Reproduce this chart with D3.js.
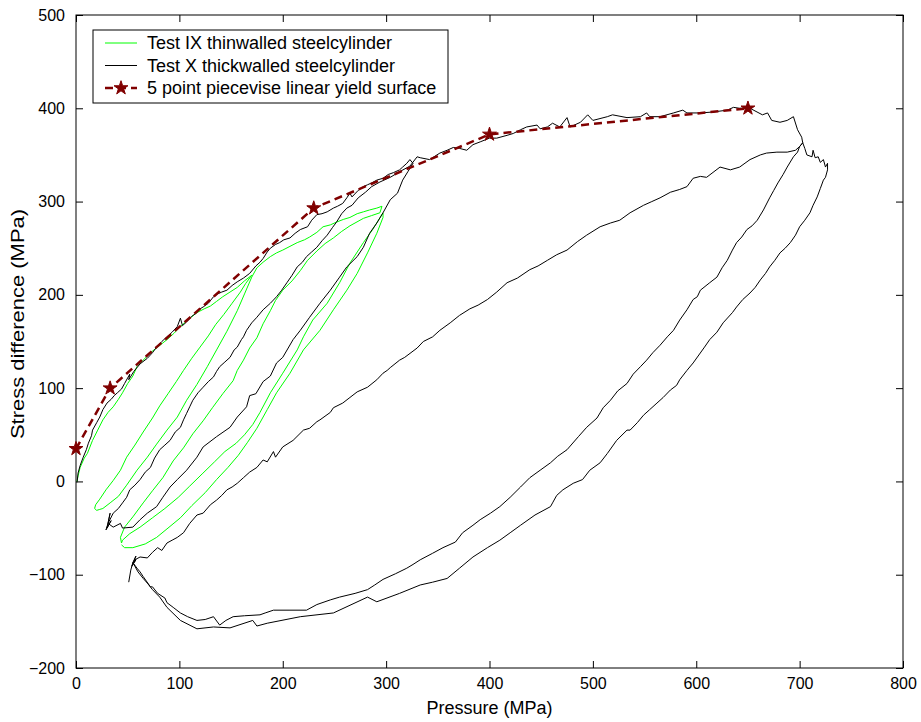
<!DOCTYPE html>
<html>
<head>
<meta charset="utf-8">
<script src="https://cdn.jsdelivr.net/npm/d3@7"></script>
<style>
  body { margin: 0; background: #ffffff; }
  text { font-family: "Liberation Sans", Arial, sans-serif; }
</style>
</head>
<body>
<div id="viz-container"></div>
<script>
let w = 921;
let h = 722;

// pressure (MPa), stress difference (MPa)
let yieldP = [0, 33, 230, 400, 650];
let yieldQ = [35, 100, 293, 372, 400];

// Test IX thinwalled, split into load / unload branches
let greenLoad = [[1,0],[2,6],[4,15],[8,25],[11,30],[16,44],[21,55],[26,66],[31,74],[36,80],[41,88],[45,95],[50,105],[55,113],[59,123],[65,130],[72,138],[79,144],[88,152],[95,159],[101,166],[108,173],[117,181],[124,185],[130,188],[136,193],[142,198],[149,203],[156,208],[163,215],[170,221]];
let greenUnload1 = [[164,212],[159,203],[151,191],[143,179],[135,168],[128,156],[120,144],[112,132],[104,119],[97,107],[89,94],[81,81],[74,68],[65,53],[57,39],[49,26],[43,12],[36,1],[29,-9],[23,-19],[19,-25],[18,-29],[20,-31],[23,-30],[26,-29]];
let greenReload1 = [[33,-23],[41,-16],[49,-4],[59,12],[69,26],[78,40],[88,55],[98,69],[107,87],[117,104],[127,123],[136,141],[146,161],[156,183],[163,201],[170,219]];
let greenLoad2 = [[175,229],[181,235],[188,241],[194,245],[200,248],[207,252],[214,256],[221,259],[226,262],[233,267],[239,273],[246,275],[252,278],[259,281],[265,283],[272,287],[278,289],[284,291],[291,293],[296,295]];
let greenUnload2 = [[294,288],[286,285],[278,282],[265,274],[257,268],[249,261],[241,255],[233,247],[224,237],[217,226],[209,215],[200,205],[193,194],[188,183],[181,169],[175,154],[168,143],[162,130],[156,119],[152,108],[142,94],[132,79],[123,65],[113,51],[104,36],[94,22],[84,4],[74,-10],[65,-23],[55,-38],[47,-49],[43,-60],[44,-66]];
let greenReload2 = [[45,-63],[52,-56],[62,-49],[74,-39],[86,-29],[99,-17],[110,-5],[122,8],[134,21],[144,32],[155,41],[163,50],[171,61],[178,74],[188,95],[200,116],[214,141],[220,155],[229,173],[243,191],[255,213],[265,234],[278,256],[287,270],[297,288]];
let greenUnload3 = [[297,283],[291,266],[282,245],[272,223],[262,205],[249,184],[236,162],[220,141],[207,116],[194,95],[185,77],[175,57],[166,42],[157,28],[147,15],[136,2],[125,-12],[112,-26],[101,-39],[89,-50],[78,-60],[67,-67],[55,-71],[47,-71],[44,-68]];

// Test X thickwalled
let blackLoad1 = [[1,-1],[2,9],[4,17],[7,26],[10,34],[12,41],[15,49],[16,55],[20,63],[23,69],[26,77],[30,84],[34,88],[37,92],[40,95],[44,99],[47,105],[52,115],[51,109],[56,118],[62,126],[69,132],[74,138],[78,144],[83,150],[88,155],[93,160],[98,166],[101,175],[103,167],[107,171],[112,177],[117,181],[120,185],[123,187],[128,191],[133,198],[137,201],[141,203],[146,205],[151,210],[156,214],[162,218],[168,223],[174,231],[178,235],[181,239],[185,246],[188,250],[193,254],[197,256],[201,259],[207,261],[212,266],[217,270],[224,273],[228,280],[233,286],[238,287],[243,289],[249,293],[253,295],[258,298],[262,304],[265,309],[267,305],[273,312],[278,316],[282,318],[286,320],[291,323],[297,325],[302,329],[307,331],[313,334],[316,337],[320,341],[323,345],[326,341]];
let blackUnload1 = [[321,332],[316,323],[311,309],[304,302],[297,288],[291,277],[284,266],[278,251],[272,241],[262,230],[255,219],[246,205],[236,191],[226,176],[217,162],[210,152],[200,133],[194,127],[188,113],[181,107],[174,94],[168,92],[165,80],[156,69],[149,58],[136,48],[123,37],[117,26],[107,12],[98,2],[91,-6],[84,-17],[78,-27],[69,-34],[62,-41],[55,-49],[45,-50],[43,-45],[36,-49],[31,-45],[29,-52],[34,-42],[30,-50],[33,-34],[31,-45]];
let blackReload1 = [[36,-34],[41,-29],[45,-23],[49,-17],[52,-9],[57,-4],[62,2],[67,10],[72,15],[76,25],[81,34],[86,39],[91,44],[96,53],[101,58],[104,66],[107,73],[110,80],[113,87],[118,95],[123,101],[128,107],[133,112],[136,118],[139,123],[144,128],[149,133],[153,141],[156,144],[160,152],[162,155],[165,162],[170,170],[175,176],[181,184],[188,191],[194,198],[199,205],[204,213],[209,221],[214,230],[219,235],[223,241],[228,246],[233,251],[238,258],[243,264],[248,272],[252,278],[257,287],[262,293],[267,296],[273,304],[280,310],[286,316],[294,321],[304,326],[313,332],[323,338],[330,348]];
let blackLoad2 = [[333,347],[342,345],[352,352],[359,355],[365,358],[371,357],[378,355],[384,361],[391,364],[400,368],[407,368],[417,371],[423,373],[430,377],[436,380],[446,382],[449,378],[456,380],[461,384],[468,380],[475,390],[478,380],[488,385],[495,393],[500,387],[514,391],[519,393],[533,390],[546,391],[552,395],[555,391],[565,391],[578,395],[587,398],[591,395],[604,395],[616,396],[630,398],[636,401],[642,400],[652,400],[664,393],[669,395],[673,387],[681,385],[688,387],[694,391],[698,377],[702,369],[703,363]];
let blackUnload2 = [[700,359],[698,353],[694,348],[688,337],[684,329],[679,320],[675,312],[671,304],[665,291],[659,280],[654,274],[649,270],[644,262],[639,256],[635,248],[630,237],[625,229],[620,219],[613,213],[604,205],[601,198],[597,195],[591,184],[584,173],[578,162],[572,155],[565,146],[558,138],[552,130],[546,123],[539,115],[533,105],[524,97],[517,87],[510,79],[504,68],[494,58],[486,48],[475,34],[466,27],[459,20],[449,12],[439,4],[430,-6],[420,-17],[410,-27],[401,-34],[391,-41],[384,-47],[374,-55],[367,-65],[355,-71],[345,-77],[333,-84],[326,-89],[320,-93],[309,-99],[297,-105],[289,-111],[282,-116],[270,-120],[255,-124],[246,-127],[233,-132],[223,-138],[207,-138],[191,-138],[183,-141],[178,-143],[163,-144],[152,-145],[145,-149],[139,-154],[133,-145],[125,-148],[117,-149],[108,-145],[101,-141],[94,-135],[88,-130],[86,-125],[79,-120],[74,-113],[72,-113],[65,-102],[62,-97],[59,-93],[55,-87],[58,-80],[54,-91],[58,-84],[56,-87]];
let blackReload2 = [[57,-84],[62,-81],[69,-82],[74,-76],[79,-71],[83,-74],[88,-66],[93,-63],[98,-60],[104,-55],[107,-50],[110,-45],[117,-36],[123,-34],[130,-25],[136,-20],[141,-15],[146,-9],[151,-6],[156,-2],[162,4],[168,10],[175,15],[181,23],[185,21],[191,32],[193,26],[200,37],[210,44],[220,55],[226,57],[233,64],[236,66],[246,74],[249,79],[258,84],[265,90],[272,96],[282,101],[291,109],[297,116],[301,119],[304,122],[313,130],[318,133],[330,143],[336,150],[345,155],[352,162],[362,170],[371,178],[381,185],[389,189],[398,195],[407,203],[417,213],[427,218],[439,227],[447,231],[456,237],[465,243],[475,248],[485,257],[494,264],[507,273],[517,277],[526,280],[536,288],[549,296],[557,300],[565,304],[575,310],[584,313],[591,316],[597,325],[604,327],[610,326],[623,337],[633,334],[642,337],[652,345],[662,350],[668,352],[678,353],[688,353],[696,355],[700,359],[703,363]];
let blackPeak = [[705,357],[707,350],[712,348],[713,355],[715,347],[718,348],[720,342],[723,345],[725,337],[727,341],[727,334]];
let blackUnload3 = [[725,326],[723,323],[720,314],[717,305],[713,296],[710,288],[705,280],[700,273],[696,264],[691,256],[686,250],[681,245],[676,237],[671,230],[667,223],[662,216],[657,208],[652,202],[645,195],[639,187],[635,181],[626,170],[620,160],[613,152],[608,144],[597,127],[591,119],[584,109],[581,103],[575,98],[568,90],[562,84],[555,77],[549,71],[543,63],[536,55],[533,55],[523,44],[514,30],[507,20],[497,12],[490,2],[481,-2],[471,-9],[465,-15],[461,-23],[459,-27],[444,-36],[430,-47],[420,-55],[410,-63],[398,-71],[384,-81],[371,-93],[359,-104],[345,-108],[333,-111],[313,-120],[291,-129],[282,-124],[249,-141],[217,-145],[185,-152],[175,-155],[171,-149],[149,-157],[133,-156],[117,-158],[101,-149],[88,-135],[81,-124],[74,-116],[69,-109],[65,-104],[60,-97],[57,-91],[55,-87],[53,-95],[51,-108]];

let seriesNames = ["Test IX thinwalled steelcylinder", "Test X thickwalled steelcylinder", "5 point piecevise linear yield surface"];
let xTicks = [0, 100, 200, 300, 400, 500, 600, 700, 800];
let yTicks = [-200, -100, 0, 100, 200, 300, 400, 500];

let green = [].concat(greenLoad, greenUnload1, greenReload1, greenLoad2, greenUnload2, greenReload2, greenUnload3);
let black = [].concat(blackLoad1, blackUnload1, blackReload1, blackLoad2, blackUnload2, blackReload2, blackPeak, blackUnload3);
let yieldPts = yieldP.map((p, i) => [p, yieldQ[i]]);

let padL = 76, padR = 903, padT = 15, padB = 668;

let viz = d3.select("#viz-container")
            .append("svg")
            .attr("width", w)
            .attr("height", h)
            .style("background-color", "#ffffff");

let x = d3.scaleLinear().domain([0, 800]).range([padL, padR]);
let y = d3.scaleLinear().domain([-200, 500]).range([padB, padT]);

let line = d3.line().x(d => x(d[0])).y(d => y(d[1]));

// axes, ticks inward on all four sides
viz.append("g")
   .attr("transform", `translate(0,${padB})`)
   .call(d3.axisBottom(x).tickValues(xTicks).tickSizeInner(-7).tickSizeOuter(0).tickPadding(10))
   .call(g => g.select(".domain").remove())
   .call(g => g.selectAll("text").attr("font-size", 16).attr("fill", "#000").attr("font-family", "Liberation Sans, Arial, sans-serif"));
viz.append("g")
   .attr("transform", `translate(0,${padT})`)
   .call(d3.axisTop(x).tickValues(xTicks).tickSizeInner(-7).tickSizeOuter(0).tickFormat(""))
   .call(g => g.select(".domain").remove());
viz.append("g")
   .attr("transform", `translate(${padL},0)`)
   .call(d3.axisLeft(y).tickValues(yTicks).tickSizeInner(-7).tickSizeOuter(0).tickPadding(11))
   .call(g => g.select(".domain").remove())
   .call(g => g.selectAll("text").attr("font-size", 16).attr("fill", "#000").attr("font-family", "Liberation Sans, Arial, sans-serif"));
viz.append("g")
   .attr("transform", `translate(${padR},0)`)
   .call(d3.axisRight(y).tickValues(yTicks).tickSizeInner(-7).tickSizeOuter(0).tickFormat(""))
   .call(g => g.select(".domain").remove());

viz.append("rect")
   .attr("x", padL)
   .attr("y", padT)
   .attr("width", padR - padL)
   .attr("height", padB - padT)
   .attr("fill", "none")
   .attr("stroke", "#000")
   .attr("stroke-width", 1);

// data lines
viz.append("path")
   .datum(green)
   .attr("d", line)
   .attr("fill", "none")
   .attr("stroke", "#00ff00")
   .attr("stroke-width", 1);

viz.append("path")
   .datum(black)
   .attr("d", line)
   .attr("fill", "none")
   .attr("stroke", "#000000")
   .attr("stroke-width", 1);

viz.append("path")
   .datum(yieldPts)
   .attr("d", line)
   .attr("fill", "none")
   .attr("stroke", "#800000")
   .attr("stroke-width", 2.5)
   .attr("stroke-dasharray", "8,5");

let star = d3.symbol().type(d3.symbolStar).size(60);
viz.selectAll(".star")
   .data(yieldPts)
   .enter().append("path")
   .attr("class", "star")
   .attr("d", star)
   .attr("transform", d => `translate(${x(d[0])},${y(d[1])})`)
   .attr("fill", "#800000")
   .attr("stroke", "#800000");

// axis labels
viz.append("text")
   .text("Pressure (MPa)")
   .attr("x", (padL + padR) / 2)
   .attr("y", 714)
   .attr("text-anchor", "middle")
   .attr("font-size", 18);

// vertical label reads a bit longer in the original
viz.append("text")
   .text("Stress difference (MPa)")
   .attr("transform", "translate(24,324) rotate(-90) scale(1.22,1)")
   .attr("text-anchor", "middle")
   .attr("font-size", 18);

// legend
let legend = viz.append("g");
legend.append("rect")
   .attr("x", 93)
   .attr("y", 30)
   .attr("width", 355)
   .attr("height", 73)
   .attr("fill", "#ffffff")
   .attr("stroke", "#000")
   .attr("stroke-width", 1);

let legendColors = ["#00ff00", "#000000", "#800000"];
seriesNames.forEach((name, i) => {
  let ly = 43 + i * 22.5;
  legend.append("line")
     .attr("x1", 105).attr("x2", 137)
     .attr("y1", ly).attr("y2", ly)
     .attr("stroke", legendColors[i])
     .attr("stroke-width", i == 2 ? 2.5 : 1)
     .attr("stroke-dasharray", i == 2 ? "8,5" : null);
  if (i == 2) {
    legend.append("path")
       .attr("d", star)
       .attr("transform", `translate(121,${ly})`)
       .attr("fill", "#800000")
       .attr("stroke", "#800000");
  }
  legend.append("text")
     .text(name)
     .attr("x", 147)
     .attr("y", ly + 6)
     .attr("font-size", 18);
});
</script>
</body>
</html>
